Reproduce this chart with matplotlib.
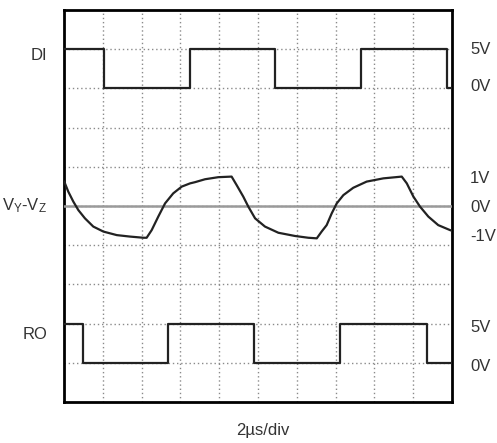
import matplotlib
matplotlib.use("Agg")
import matplotlib.pyplot as plt
import matplotlib.transforms as mtransforms

plt.rcParams['font.family'] = ['Liberation Sans Narrow', 'Liberation Sans', 'DejaVu Sans']
plt.rcParams['mathtext.default'] = 'regular'

# ---- data (time in microseconds, 2 us/div, 10 div) ----
di_times = [0.0, 2.06, 6.50, 10.88, 15.30, 19.74, 20.0]
di_levels = [5, 0, 5, 0, 5, 0, 0]          # volts

ro_times = [0.0, 0.98, 5.38, 9.80, 14.22, 18.70, 20.0]
ro_levels = [5, 0, 5, 0, 5, 0, 0]          # volts

v_times = [0.0, 0.05, 0.22, 0.48, 0.74, 1.08, 1.51, 2.03, 2.72, 3.40, 4.09, 4.26,
           4.52, 4.86, 5.21, 5.63, 6.07, 6.50, 6.75, 7.27, 7.95, 8.64, 8.90,
           9.24, 9.50, 9.85, 10.36, 11.05, 11.91, 12.59, 13.03, 13.28, 13.54,
           13.80, 14.06, 14.40, 14.91, 15.60, 16.46, 17.41, 17.67, 18.01, 18.35,
           18.78, 19.29, 19.90, 20.0]
v_diff = [0.84, 0.77, 0.49, 0.15, -0.14, -0.42, -0.70, -0.87, -0.99, -1.04, -1.08, -1.08,
          -0.82, -0.36, 0.09, 0.43, 0.66, 0.77, 0.81, 0.91, 0.98, 1.00, 0.71,
          0.32, -0.02, -0.42, -0.70, -0.91, -1.02, -1.08, -1.10, -0.87, -0.65,
          -0.25, 0.09, 0.37, 0.62, 0.83, 0.94, 1.00, 0.77, 0.32, -0.02,
          -0.36, -0.65, -0.82, -0.84]

trace_names = ["DI", "V$_Y$-V$_Z$", "RO"]
di_ticklabels = ["5V", "0V"]
v_ticklabels = ["1V", "0V", "-1V"]
ro_ticklabels = ["5V", "0V"]
xlabel = "2\u00b5s/div"

W, H = 497, 443
fig = plt.figure(figsize=(W / 100, H / 100), dpi=100)
rect = [64 / W, (H - 402) / H, 388 / W, 392 / H]

# background grid axes (10 x 10 divisions)
ax = fig.add_axes(rect)
ax.set_xlim(0, 20)
ax.set_ylim(0, 10)
ax.set_xticks([])
ax.set_yticks([])
for k in range(1, 10):
    ax.axvline(2 * k, color='#8a8a8a', lw=1.0, ls=(0, (1, 2)), zorder=1)
    ax.axhline(k, color='#8a8a8a', lw=1.0, ls=(0, (1, 2)), zorder=1)
for s in ax.spines.values():
    s.set_linewidth(2.0)
    s.set_color('black')
    s.set_zorder(10)

def overlay(ylim):
    a = fig.add_axes(rect, sharex=ax)
    a.patch.set_visible(False)
    for s in a.spines.values():
        s.set_visible(False)
    a.set_ylim(*ylim)
    a.set_xlim(0, 20)
    a.tick_params(axis='x', bottom=False, labelbottom=False)
    a.tick_params(axis='y', left=False, labelleft=False, right=False,
                  labelright=True, length=0, pad=13, labelsize=12)
    return a

# DI: 0V at div 8, 5V at div 9 (5 V/div)
ax_di = overlay((-40, 10))
ax_di.step(di_times, di_levels, where='post', color='#222222', lw=1.6, zorder=5)
ax_di.set_yticks([5.1, 0.4], di_ticklabels)

# VY-VZ: 0V at div 5, ~0.75 div per volt
ax_v = overlay((-5 / 0.75, 5 / 0.75))
ax_v.axhline(0, color='#9a9a9a', lw=1.8, zorder=2)
ax_v.plot(v_times, v_diff, color='#222222', lw=1.6, zorder=5,
          solid_joinstyle='round', solid_capstyle='round')
ax_v.set_yticks([1, 0, -1], v_ticklabels)

# RO: 0V at div 1, 5V at div 2
ax_ro = overlay((-5, 45))
ax_ro.step(ro_times, ro_levels, where='post', color='#222222', lw=1.6, zorder=5)
ax_ro.set_yticks([4.75, -0.3], ro_ticklabels)

for a in (ax_di, ax_v, ax_ro):
    for lab in a.get_yticklabels():
        lab.set_color('#333333')

# left trace names
trans = mtransforms.blended_transform_factory(fig.transFigure, ax.transData)
for name, ypos in zip(trace_names, [8.85, 5.02, 1.71]):
    ax.text(47 / W, ypos, name, transform=trans, ha='right', va='center',
            fontsize=12, color='#333333')

fig.text(263 / W, 1 - 431 / H, xlabel, ha='center', va='center',
         fontsize=12, color='#333333')

fig.savefig("out.png", dpi=100)
